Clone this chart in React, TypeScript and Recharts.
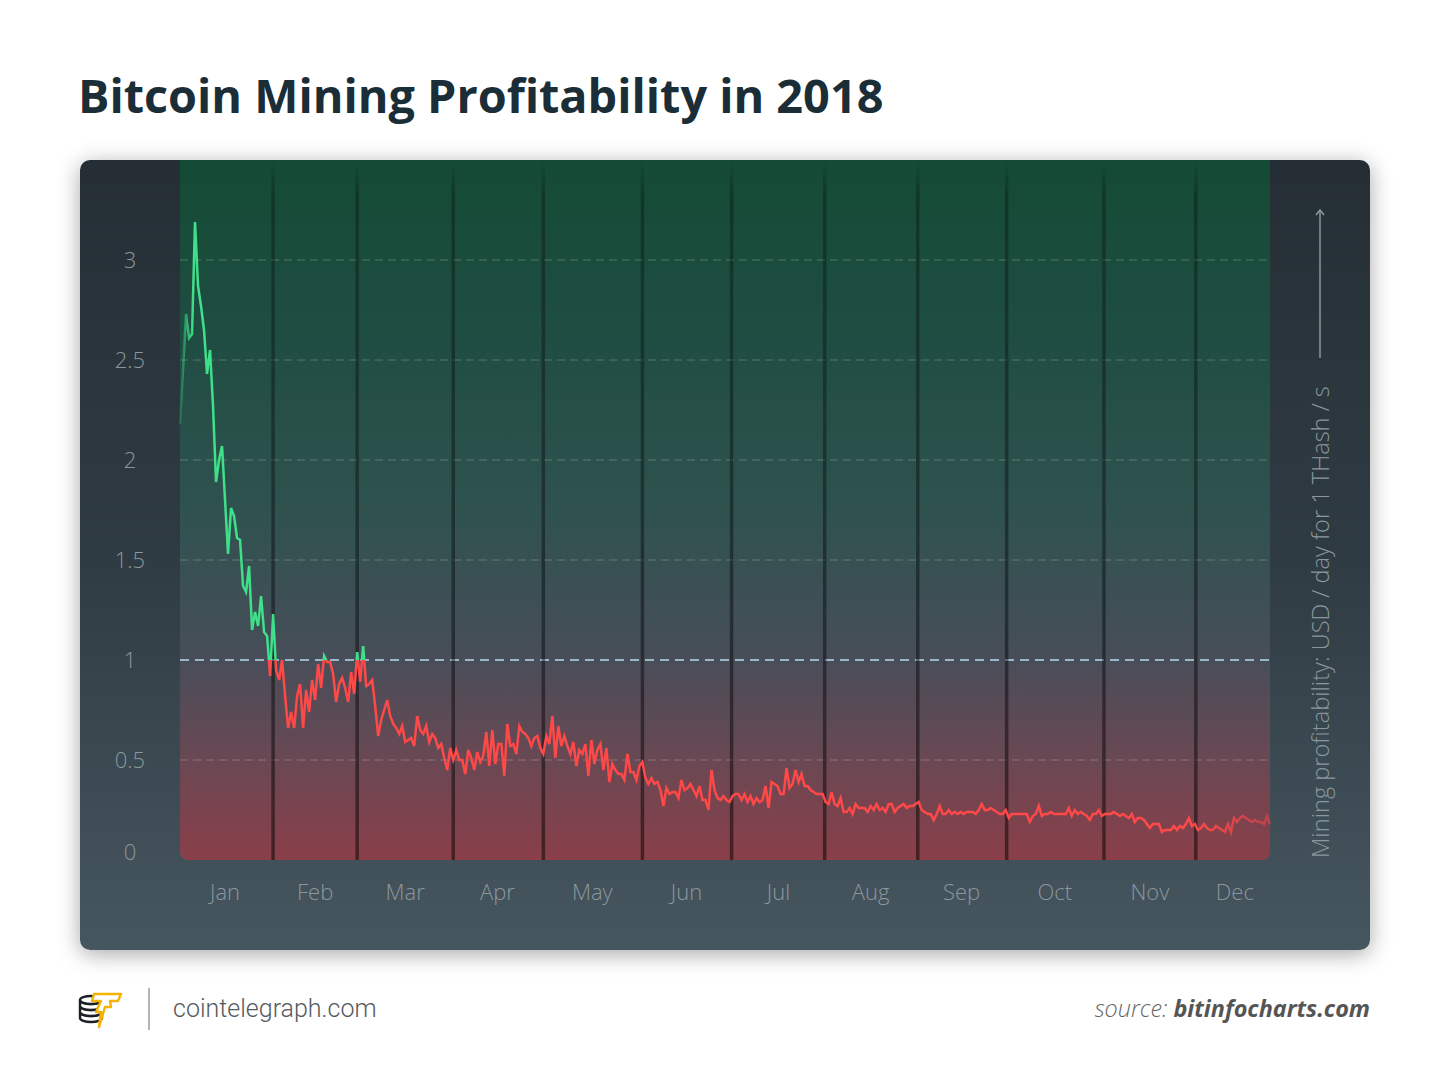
import React from "react";
import { LineChart, Line, XAxis, YAxis, ReferenceLine, ReferenceArea } from "recharts";

// USD / day for 1 THash/s, one value per day
const profitability = [
  2.18, 2.45, 2.73, 2.61, 2.63, 3.19, 2.87, 2.77, 2.65, 2.43, 2.55, 2.27, 1.89, 2.0, 2.07, 1.8,
  1.53, 1.76, 1.72, 1.61, 1.6, 1.37, 1.34, 1.47, 1.15, 1.24, 1.17, 1.32, 1.14, 1.12, 0.92, 1.23,
  0.95, 0.9, 1.0, 0.82, 0.66, 0.74, 0.66, 0.82, 0.88, 0.66, 0.85, 0.74, 0.9, 0.8, 0.98, 0.86,
  1.02, 0.99, 0.99, 0.93, 0.79, 0.88, 0.91, 0.86, 0.79, 0.94, 0.83, 1.04, 0.89, 1.07, 0.87, 0.88,
  0.9, 0.77, 0.62, 0.7, 0.75, 0.8, 0.72, 0.68, 0.66, 0.63, 0.67, 0.59, 0.6, 0.61, 0.57, 0.72,
  0.65, 0.63, 0.67, 0.59, 0.63, 0.61, 0.56, 0.58, 0.51, 0.45, 0.56, 0.5, 0.55, 0.5, 0.5, 0.43,
  0.55, 0.51, 0.45, 0.54, 0.49, 0.52, 0.64, 0.47, 0.65, 0.48, 0.58, 0.58, 0.42, 0.68, 0.57, 0.58,
  0.53, 0.67, 0.64, 0.63, 0.61, 0.57, 0.61, 0.62, 0.56, 0.53, 0.62, 0.58, 0.72, 0.51, 0.67, 0.57,
  0.62, 0.57, 0.53, 0.59, 0.47, 0.55, 0.53, 0.58, 0.42, 0.6, 0.48, 0.55, 0.58, 0.45, 0.56, 0.39,
  0.48, 0.45, 0.43, 0.43, 0.4, 0.53, 0.44, 0.44, 0.4, 0.47, 0.49, 0.41, 0.38, 0.41, 0.38, 0.39,
  0.35, 0.27, 0.36, 0.33, 0.34, 0.34, 0.31, 0.4, 0.35, 0.36, 0.38, 0.35, 0.32, 0.37, 0.3, 0.3,
  0.25, 0.45, 0.35, 0.31, 0.3, 0.32, 0.3, 0.29, 0.32, 0.33, 0.33, 0.3, 0.33, 0.29, 0.32, 0.28,
  0.31, 0.29, 0.3, 0.37, 0.26, 0.39, 0.38, 0.37, 0.33, 0.33, 0.46, 0.36, 0.38, 0.45, 0.39, 0.43,
  0.37, 0.37, 0.35, 0.34, 0.33, 0.33, 0.33, 0.29, 0.28, 0.34, 0.28, 0.27, 0.31, 0.24, 0.24, 0.26,
  0.23, 0.28, 0.26, 0.26, 0.26, 0.24, 0.27, 0.25, 0.28, 0.25, 0.26, 0.24, 0.28, 0.28, 0.24, 0.26,
  0.27, 0.28, 0.26, 0.27, 0.27, 0.28, 0.29, 0.25, 0.24, 0.23, 0.23, 0.2, 0.23, 0.27, 0.23, 0.23,
  0.25, 0.23, 0.24, 0.23, 0.24, 0.23, 0.24, 0.24, 0.24, 0.23, 0.25, 0.28, 0.25, 0.25, 0.26, 0.25,
  0.24, 0.23, 0.23, 0.25, 0.21, 0.23, 0.23, 0.23, 0.23, 0.23, 0.23, 0.19, 0.22, 0.23, 0.27, 0.22,
  0.23, 0.23, 0.24, 0.23, 0.23, 0.23, 0.23, 0.23, 0.26, 0.22, 0.25, 0.23, 0.24, 0.23, 0.22, 0.2,
  0.23, 0.23, 0.25, 0.22, 0.23, 0.23, 0.23, 0.24, 0.23, 0.22, 0.23, 0.22, 0.21, 0.23, 0.19, 0.21,
  0.21, 0.2, 0.18, 0.16, 0.18, 0.18, 0.18, 0.14, 0.15, 0.15, 0.15, 0.17, 0.15, 0.17, 0.16, 0.18,
  0.21, 0.17, 0.18, 0.15, 0.16, 0.18, 0.16, 0.15, 0.15, 0.17, 0.16, 0.15, 0.14, 0.18, 0.14, 0.21,
  0.19, 0.21, 0.22, 0.21, 0.2, 0.19, 0.2, 0.19, 0.19, 0.18, 0.22, 0.18,
];

const months = ["Jan", "Feb", "Mar", "Apr", "May", "Jun", "Jul", "Aug", "Sep", "Oct", "Nov", "Dec"];
// where the month names sit and where the dark month dividers are, in day-index units
const monthLabelDays = [15, 45, 75, 105.7, 137.3, 168.7, 199.3, 230, 260.3, 291.3, 323, 351.3];
const monthStartDays = [31, 59, 91, 121, 154, 183.7, 214.7, 245.7, 275.3, 307.7, 338.3];

const yTicks = [0, 0.5, 1, 1.5, 2, 2.5, 3];
const gridValues = [0.5, 1.5, 2, 2.5, 3];
const breakEven = 1;
const yMax = 3.5;

const data = profitability.map((value, day) => ({ day, value }));
const lastDay = profitability.length - 1;

const W = 1290;
const H = 790;
const PLOT_H = 700;
const labelColor = "#8b979d";
const lightFont = "'Open Sans', sans-serif";

const PlotBackground = (props: any) => {
  const { x, y, width, height } = props;
  const r = 9;
  const d = `M${x},${y} H${x + width} V${y + height - r} Q${x + width},${y + height} ${x + width - r},${
    y + height
  } H${x + r} Q${x},${y + height} ${x},${y + height - r} Z`;
  return <path d={d} fill="url(#plotBg)" />;
};

const YTick = (props: any) => {
  const { x, y, payload } = props;
  return (
    <text
      x={x}
      y={payload.value === 0 ? y - 9 : y - 1}
      textAnchor="middle"
      dominantBaseline="central"
      fill={labelColor}
      fontFamily={lightFont}
      fontWeight={300}
      fontSize={22}
    >
      {payload.value}
    </text>
  );
};

const XTick = (props: any) => {
  const { x, y, payload } = props;
  const i = monthLabelDays.indexOf(payload.value);
  return (
    <text
      x={x}
      y={y}
      textAnchor="middle"
      dominantBaseline="central"
      fill={labelColor}
      fontFamily={lightFont}
      fontWeight={300}
      fontSize={22}
    >
      {months[i]}
    </text>
  );
};

const RightLabel = (props: any) => {
  const vb = props.viewBox || {};
  const cx = vb.x + vb.width / 2;
  const bottom = vb.y + vb.height - 2;
  const arrowTop = vb.y + 50;
  const arrowBottom = vb.y + 198;
  return (
    <g>
      <text
        x={cx}
        y={bottom}
        transform={`rotate(-90 ${cx} ${bottom})`}
        textAnchor="start"
        dominantBaseline="central"
        fill={labelColor}
        fontFamily={lightFont}
        fontWeight={300}
        fontSize={23.6}
      >
        Mining profitability: USD / day for 1 THash / s
      </text>
      <line x1={cx} x2={cx} y1={arrowTop} y2={arrowBottom} stroke={labelColor} strokeWidth={1.5} />
      <polyline
        points={`${cx - 4},${arrowTop + 5} ${cx},${arrowTop} ${cx + 4},${arrowTop + 5}`}
        fill="none"
        stroke={labelColor}
        strokeWidth={1.5}
      />
    </g>
  );
};

function Logo() {
  return (
    <svg width={46} height={42} viewBox="0 0 46 42" style={{ position: "absolute", left: 78, top: 988 }}>
      <g fill="#fff" stroke="#1b2025" strokeWidth={2.4}>
        <path d="M2,30 a11,4 0 0 0 22,0 v-6 a11,4 0 0 1 -22,0 Z" />
        <path d="M2,24 a11,4 0 0 0 22,0 v-6 a11,4 0 0 1 -22,0 Z" />
        <path d="M2,18 a11,4 0 0 0 22,0 v-6 a11,4 0 0 1 -22,0 Z" />
        <ellipse cx={13} cy={12} rx={11} ry={4} />
      </g>
      <polygon
        points="16,6 43,6 40,13 32,13 33,19 27,19 21,39 23,24 18,24 23,13 14,13"
        fill="#fff"
        stroke="#f5b300"
        strokeWidth={2.4}
        strokeLinejoin="round"
      />
    </svg>
  );
}

export default function App() {
  const splitOffset = (yMax - breakEven) / yMax;
  return (
    <div
      style={{
        position: "absolute",
        left: 0,
        top: 0,
        width: 1450,
        height: 1090,
        background: "#ffffff",
        overflow: "hidden",
      }}
    >
      <style>{`.recharts-line-curve { mask: url(#lineFade); }`}</style>
      <div
        style={{
          position: "absolute",
          left: 78,
          top: 72,
          fontFamily: "'Open Sans', sans-serif",
          fontWeight: 700,
          fontSize: 46.8,
          lineHeight: 1,
          color: "#1b2d37",
          whiteSpace: "nowrap",
        }}
      >
        Bitcoin Mining Profitability in 2018
      </div>

      <div
        style={{
          position: "absolute",
          left: 80,
          top: 160,
          width: W,
          height: H,
          borderRadius: 10,
          background: "linear-gradient(180deg, #252e35 0%, #2f3b43 50%, #46565f 100%)",
          boxShadow: "0 4px 22px rgba(0,0,0,0.35)",
          overflow: "hidden",
        }}
      >
        <LineChart width={W} height={H} data={data} margin={{ top: 0, right: 0, bottom: 0, left: 0 }}>
          <defs>
            <linearGradient id="plotBg" x1="0" y1="0" x2="0" y2="1">
              <stop offset="0%" stopColor="#144b35" />
              <stop offset="25%" stopColor="#1f4d42" />
              <stop offset="50%" stopColor="#2f524f" />
              <stop offset="71%" stopColor="#474e59" />
              <stop offset="86%" stopColor="#6a4853" />
              <stop offset="100%" stopColor="#8a3f49" />
            </linearGradient>
            <linearGradient id="lineGrad" gradientUnits="userSpaceOnUse" x1="0" y1="0" x2="0" y2={PLOT_H}>
              <stop offset={splitOffset} stopColor="#3fe08a" />
              <stop offset={splitOffset} stopColor="#ff4848" />
            </linearGradient>
            <linearGradient id="monthLineGrad" gradientUnits="userSpaceOnUse" x1="0" y1="0" x2="0" y2={PLOT_H}>
              <stop offset="0%" stopColor="#000" stopOpacity={0} />
              <stop offset="5%" stopColor="#000" stopOpacity={0.28} />
              <stop offset="100%" stopColor="#000" stopOpacity={0.5} />
            </linearGradient>
            <linearGradient id="fadeGrad" gradientUnits="userSpaceOnUse" x1="100" y1="0" x2="1190" y2="0">
              <stop offset="0%" stopColor="#fff" stopOpacity={0.2} />
              <stop offset="1.2%" stopColor="#fff" stopOpacity={1} />
              <stop offset="93%" stopColor="#fff" stopOpacity={1} />
              <stop offset="100%" stopColor="#fff" stopOpacity={0.45} />
            </linearGradient>
            <mask id="lineFade" maskUnits="userSpaceOnUse" x="0" y="0" width={W} height={H}>
              <rect x="0" y="0" width={W} height={H} fill="url(#fadeGrad)" />
            </mask>
          </defs>

          <XAxis
            dataKey="day"
            type="number"
            domain={[0, lastDay]}
            ticks={monthLabelDays}
            interval={0}
            height={90}
            axisLine={false}
            tickLine={false}
            tickSize={0}
            tickMargin={31}
            tick={<XTick />}
          />
          <YAxis
            type="number"
            domain={[0, yMax]}
            ticks={yTicks}
            interval={0}
            width={100}
            axisLine={false}
            tickLine={false}
            tickSize={0}
            tickMargin={50}
            tick={<YTick />}
          />
          <YAxis
            yAxisId="right"
            orientation="right"
            width={100}
            axisLine={false}
            tickLine={false}
            tick={false}
            label={<RightLabel />}
          />

          <ReferenceArea x1={0} x2={lastDay} y1={0} y2={yMax} shape={<PlotBackground />} />

          {gridValues.map((v) => (
            <ReferenceLine
              key={`g${v}`}
              y={v}
              stroke="#ffffff"
              strokeOpacity={0.16}
              strokeWidth={1.5}
              strokeDasharray="8 5"
            />
          ))}
          <ReferenceLine y={breakEven} stroke="#a8cad8" strokeOpacity={0.85} strokeWidth={2} strokeDasharray="9 6" />

          {monthStartDays.map((d) => (
            <ReferenceLine key={`m${d}`} x={d} stroke="url(#monthLineGrad)" strokeWidth={3.5} />
          ))}

          <Line
            type="linear"
            dataKey="value"
            stroke="url(#lineGrad)"
            strokeWidth={2.5}
            dot={false}
            activeDot={false}
            isAnimationActive={false}
          />
        </LineChart>
      </div>

      <Logo />
      <div style={{ position: "absolute", left: 148, top: 988, width: 2, height: 42, background: "#b5b5b5" }} />
      <div
        style={{
          position: "absolute",
          left: 173,
          top: 996,
          fontFamily: "Roboto, sans-serif",
          fontWeight: 300,
          fontSize: 25,
          lineHeight: 1,
          color: "#555a5e",
        }}
      >
        cointelegraph.com
      </div>
      <div
        style={{
          position: "absolute",
          right: 80,
          top: 997,
          fontFamily: "'Open Sans', sans-serif",
          fontStyle: "italic",
          fontSize: 23.4,
          lineHeight: 1,
          color: "#666",
          whiteSpace: "nowrap",
        }}
      >
        <span style={{ fontWeight: 300 }}>source: </span>
        <span style={{ fontWeight: 700, color: "#555" }}>bitinfocharts.com</span>
      </div>
    </div>
  );
}
